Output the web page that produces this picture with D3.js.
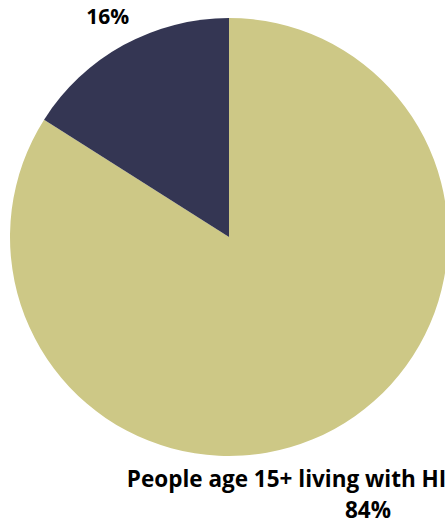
<!DOCTYPE html>
<html>
<head>
<meta charset="utf-8">
<script src="https://cdn.jsdelivr.net/npm/d3@7"></script>
<style>
  html, body { margin: 0; padding: 0; background: #ffffff; overflow: hidden; }
  svg { display: block; }
  text { font-family: "Open Sans", "Noto Sans", sans-serif; font-weight: 700; fill: #000; }
</style>
</head>
<body>
<svg id="chart" width="445" height="522"></svg>
<script>
const categories = ["People age 15+ living with HIV who use ART", ""];
const values = [84, 16];
const colors = ["#CDC886", "#343653"];

const W = 445, H = 522;
const cx = 229, cy = 237, r = 219;

const svg = d3.select("#chart");
const g = svg.append("g").attr("transform", `translate(${cx},${cy})`);

const data = categories.map((c, i) => ({ category: c, value: values[i], color: colors[i] }));

const pie = d3.pie().value(d => d.value).sort(null).startAngle(0).endAngle(2 * Math.PI);
const arcs = pie(data);
const arc = d3.arc().innerRadius(0).outerRadius(r);

g.selectAll("path.slice")
  .data(arcs)
  .join("path")
  .attr("class", "slice")
  .attr("d", arc)
  .attr("fill", d => d.data.color);

const total = d3.sum(values);
const fmt = v => Math.round(v / total * 100) + "%";

// label radii relative to pie radius, plus small vertical nudges
const labelFactor = [1.317, 1.15];
const labelNudge = [5, 0];
const fontSizes = [22.5, 21];

arcs.forEach((a, i) => {
  const mid = (a.startAngle + a.endAngle) / 2;
  const lr = r * labelFactor[i];
  const x = Math.sin(mid) * lr;
  const y = -Math.cos(mid) * lr + labelNudge[i];
  const lines = a.data.category ? [a.data.category, fmt(a.data.value)] : [fmt(a.data.value)];
  const lh = 31;
  const t = g.append("text")
    .attr("text-anchor", "middle")
    .attr("font-size", fontSizes[i])
    .attr("transform", `translate(${x},${y})`);
  lines.forEach((ln, k) => {
    t.append("tspan")
      .attr("x", 0)
      .attr("y", (k - (lines.length - 1) / 2) * lh)
      .attr("dy", "0.35em")
      .text(ln);
  });
});
</script>
</body>
</html>
